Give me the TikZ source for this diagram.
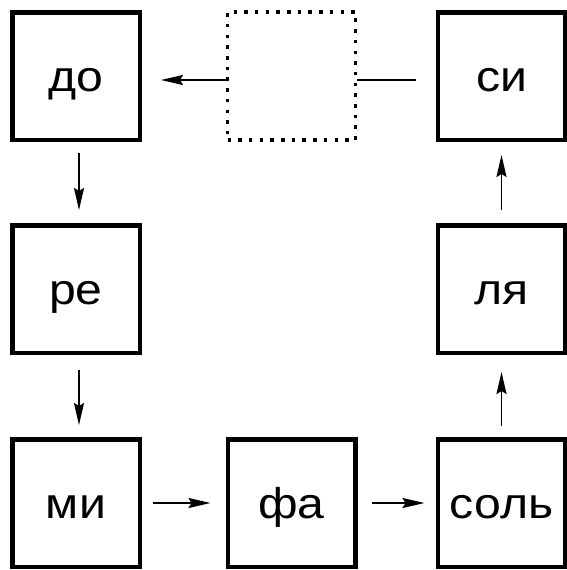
\documentclass[tikz,border=0pt]{standalone}
\usepackage{fontspec}
\setmainfont[FakeStretch=1.12]{Liberation Sans}
\usetikzlibrary{arrows.meta}
\begin{document}
\begin{tikzpicture}[x=1pt,y=-1pt,
  notebox/.style={draw=black, line width=4.5pt, minimum size=127.5pt, inner sep=0pt, text height=30pt, text depth=0pt, font=\fontsize{43}{48}\selectfont},
  emptybox/.style={draw=black, line width=3.5pt, dash pattern=on 3.5pt off 7.2pt, minimum size=128pt, inner sep=0pt},
  link/.style={line width=1.8pt, -{Stealth[length=22pt,width=10pt,inset=3pt]}},
  plain/.style={line width=1.8pt}]
\useasboundingbox[fill=white] (0,0) rectangle (567,570);
\node[notebox] (do) at (76,76) {до};
\node[emptybox] (gap) at (291.5,76) {};
\node[notebox] (si) at (501.5,76) {си};
\node[notebox] (re) at (76,289) {ре};
\node[notebox] (la) at (501.5,289) {ля};
\node[notebox] (mi) at (76,503) {ми};
\node[notebox] (fa) at (291.5,503) {фа};
\node[notebox] (sol) at (501.5,503) {соль};
\draw[plain, shorten <=20pt] ([yshift=-4pt]si.west) -- ([yshift=-4pt]gap.east);
\draw[link, shorten >=19pt] ([yshift=-4pt]gap.west) -- ([yshift=-4pt]do.east);
\draw[link, shorten <=11pt, shorten >=13pt] ([xshift=3pt]do.south) -- ([xshift=3pt]re.north);
\draw[link, shorten <=15pt, shorten >=12pt] ([xshift=3pt]re.south) -- ([xshift=3pt]mi.north);
\draw[link, shorten <=11pt, shorten >=15pt] (mi.east) -- (fa.west);
\draw[link, shorten <=14pt, shorten >=11pt] (fa.east) -- (sol.west);
\draw[link, shorten <=11pt, shorten >=17pt] (sol.north) -- (la.south);
\draw[link, shorten <=13pt, shorten >=13pt] (la.north) -- (si.south);
\end{tikzpicture}
\end{document}
